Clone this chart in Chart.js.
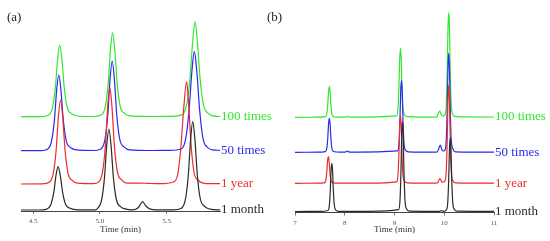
<!DOCTYPE html>
<html>
<head>
<meta charset="utf-8">
<script src="https://cdn.jsdelivr.net/npm/chart.js@4/dist/chart.umd.min.js"></script>
<style>
  html, body { margin: 0; padding: 0; background: #fff; }
  #wrap { position: relative; width: 550px; height: 241px; overflow: hidden; }
  canvas { position: absolute; top: 0; }
  .panel { position: absolute; top: 9px; font: 13px "Liberation Serif", "Times New Roman", serif; color: #222; }
</style>
</head>
<body>
<div id="wrap">
  <canvas id="ca" width="275" height="241" style="left:0"></canvas>
  <canvas id="cb" width="275" height="241" style="left:275px"></canvas>
  <div class="panel" style="left:7px">(a)</div>
  <div class="panel" style="left:267px">(b)</div>
</div>
<script>
// ---- series names & colours ----
const seriesNames = ['1 month', '1 year', '50 times', '100 times'];
const seriesColors = ['#2a2a2a', '#ee2a2a', '#2a2aee', '#2ee82e'];

// ---- x ticks ----
const ticksA = [4.5, 5.0, 5.5];
const tickLabelsA = ['4.5', '5.0', '5.5'];
const ticksB = [7, 8, 9, 10, 11];
const tickLabelsB = ['7', '8', '9', '10', '11'];
const axisTitle = 'Time (min)';

// ---- panel (a): [time (min), stacked signal] ----
const monthA = [[4.41,2.5],[4.55,2.5],
  [4.603,3.4],[4.633,7.7],[4.655,19.8],[4.672,37.1],[4.688,45.8],[4.704,37.1],[4.722,19.8],[4.744,8.1],[4.778,4.2],[4.818,2.9],
  [4.9,2.6],[4.97,2.6],
  [4.983,4.1],[5.013,12.2],[5.035,34.9],[5.052,67.3],[5.068,83.5],[5.084,67.3],[5.102,34.9],[5.124,13],[5.158,5.7],[5.198,3.3],
  [5.24,2.7],[5.27,3.2],[5.295,6],[5.32,10.8],[5.345,6.5],[5.38,3.3],[5.43,2.7],
  [5.55,2.6],
  [5.611,4.3],[5.641,13.1],[5.663,37.8],[5.68,73.1],[5.696,90.8],[5.712,73.1],[5.73,37.8],[5.752,14],[5.786,6],[5.826,3.4],
  [5.9,2.6]];
const yearA = [[4.41,28.5],[4.57,28.6],
  [4.621,30.2],[4.651,38.6],[4.673,62.1],[4.69,95.7],[4.706,112.5],[4.722,95.7],[4.74,62.1],[4.762,39.4],[4.796,31.9],[4.836,29.3],
  [4.95,28.8],
  [4.99,30.4],[5.02,40.1],[5.042,67.2],[5.059,105.9],[5.075,125.2],[5.091,105.9],[5.109,67.2],[5.131,41.1],[5.165,32.4],[5.205,29.3],
  [5.3,29.4],[5.36,29.1],[5.45,28.8],
  [5.551,30.5],[5.584,38.5],[5.606,63.5],[5.628,103.5],[5.65,130.8],[5.665,108.5],[5.683,68.5],[5.705,40.5],[5.738,32],[5.782,29.2],
  [5.9,28.8]];
const times50A = [[4.41,61.8],[4.56,61.9],
  [4.608,63.3],[4.638,70.9],[4.66,92.1],[4.677,122.4],[4.693,137.5],[4.709,122.4],[4.727,92.1],[4.749,71.6],[4.783,64.8],[4.823,62.6],
  [4.95,62],
  [5.008,63.6],[5.038,72.6],[5.06,97.7],[5.077,133.6],[5.093,151.5],[5.109,133.6],[5.127,97.7],[5.149,73.5],[5.183,65.4],[5.223,62.7],
  [5.4,62],[5.52,62.1],
  [5.613,63.8],[5.643,73.8],[5.668,101.8],[5.69,141.8],[5.708,160.8],[5.726,141.8],[5.748,101.8],[5.773,73.8],[5.803,65.5],[5.843,62.6],
  [5.9,62.2]];
const times100A = [[4.41,95.8],[4.56,95.9],
  [4.615,97.2],[4.645,104.4],[4.667,124.5],[4.684,153.2],[4.70,167.5],[4.716,153.2],[4.734,124.5],[4.756,105.1],[4.79,98.7],[4.83,96.5],
  [4.95,96],
  [5.011,97.5],[5.041,105.9],[5.063,129.4],[5.08,163],[5.096,179.8],[5.112,163],[5.13,129.4],[5.152,106.7],[5.186,99.2],[5.226,96.6],
  [5.4,96],[5.52,96.1],
  [5.618,97.9],[5.65,107.8],[5.675,133.8],[5.696,171.8],[5.713,190.8],[5.73,171.8],[5.751,133.8],[5.776,107.8],[5.806,99.8],[5.846,96.7],
  [5.9,96]];

// ---- panel (b): [time (min), stacked signal] ----
const monthB = [[7.0,1.5],[7.5,1.6],
  [7.66,2.5],[7.69,7.3],[7.71,23.2],[7.725,42.5],[7.74,49.7],[7.755,42.5],[7.77,23.2],[7.79,7.8],[7.82,2.9],[7.88,1.7],
  [8.5,1.6],
  [9.08,3.3],[9.11,12.3],[9.13,41.9],[9.145,77.8],[9.16,91.3],[9.175,77.8],[9.19,41.9],[9.21,13.2],[9.24,4.2],[9.3,1.8],
  [9.9,1.6],[9.95,2.5],[9.98,1.7],
  [10.04,2.9],[10.07,10.3],[10.09,34.5],[10.105,64],[10.12,75],[10.135,64],[10.15,34.5],[10.17,11.1],[10.2,3.7],[10.26,1.8],
  [11.0,1.6]];
const yearB = [[7.0,29.7],[7.45,29.8],
  [7.59,30.2],[7.62,32.9],[7.64,41.7],[7.655,52.3],[7.67,56.3],[7.685,52.3],[7.70,41.7],[7.72,33.2],[7.75,30.5],[7.81,29.9],
  [8.5,29.8],
  [9.04,31.1],[9.07,37.9],[9.09,60.3],[9.105,87.5],[9.12,97.7],[9.135,87.5],[9.15,60.3],[9.17,38.5],[9.2,32],[9.26,30.2],
  [9.8,29.8],[9.86,30],[9.89,32.5],[9.91,34.5],[9.935,32.5],[9.96,30.8],
  [10.01,31.7],[10.04,41.5],[10.06,73.9],[10.075,113.3],[10.09,128],[10.105,113.3],[10.12,73.9],[10.14,42.5],[10.17,32.6],[10.23,30.2],
  [11.0,29.8]];
const times50B = [[7.0,60.7],[7.45,60.8],
  [7.61,61.4],[7.64,64.8],[7.66,76],[7.675,89.6],[7.69,94.7],[7.705,89.6],[7.72,76],[7.74,65.1],[7.77,61.7],[7.83,61],
  [8.0,60.8],[8.05,61.8],[8.1,60.9],
  [9.06,62.1],[9.09,69.4],[9.11,93.2],[9.125,122.2],[9.14,133],[9.155,122.2],[9.17,93.2],[9.19,70.1],[9.22,62.9],[9.28,61.2],
  [9.8,60.8],[9.86,61],[9.89,64.5],[9.92,68],[9.945,64.5],[9.97,62],
  [10.01,62.7],[10.04,72.6],[10.06,105.4],[10.075,145.1],[10.09,160],[10.105,145.1],[10.12,105.4],[10.14,73.6],[10.17,64.7],[10.23,61.2],
  [11.0,60.9]];
const times100B = [[7.0,95.7],[7.45,95.8],
  [7.61,96.3],[7.64,99.4],[7.66,109.5],[7.675,121.7],[7.69,126.3],[7.705,121.7],[7.72,109.5],[7.74,99.7],[7.77,96.6],[7.83,95.9],
  [8.0,95.8],[8.05,96.6],[8.1,95.8],
  [9.04,97.1],[9.07,104],[9.09,126.7],[9.105,154.3],[9.12,164.7],[9.135,154.3],[9.15,126.7],[9.17,104.7],[9.2,98.5],[9.26,96.3],
  [9.8,95.8],[9.85,96],[9.88,99.5],[9.91,102],[9.935,99],[9.96,97],
  [10.01,97.8],[10.04,108.3],[10.06,142.8],[10.075,184.6],[10.09,200.3],[10.105,184.6],[10.12,142.8],[10.14,109.3],[10.17,98.8],[10.23,96.3],
  [11.0,96]];

const SERIF = '"Liberation Serif", "Times New Roman", serif';

const endLabels = {
  id: 'endLabels',
  afterDatasetsDraw(chart) {
    const ctx = chart.ctx;
    const ys = chart.scales.y;
    ctx.save();
    ctx.font = '13px ' + SERIF;
    ctx.textBaseline = 'middle';
    ctx.textAlign = 'left';
    chart.data.datasets.forEach((ds, i) => {
      const last = ds.data[ds.data.length - 1];
      ctx.fillStyle = seriesColors[i];
      ctx.fillText(seriesNames[i], chart.chartArea.right + 1, ys.getPixelForValue(last[1]));
    });
    ctx.restore();
  }
};

function makeChart(id, series, xmin, xmax, ticks, tickLabels, ymin, ymax, pad, axisH) {
  return new Chart(document.getElementById(id), {
    type: 'line',
    data: {
      datasets: series.map((d, i) => ({
        label: seriesNames[i],
        data: d,
        borderColor: seriesColors[i],
        borderWidth: 1.2,
        pointRadius: 0,
        fill: false,
        cubicInterpolationMode: 'monotone'
      }))
    },
    options: {
      responsive: false,
      animation: false,
      devicePixelRatio: 1,
      layout: { padding: pad },
      plugins: { legend: { display: false }, tooltip: { enabled: false } },
      scales: {
        x: {
          type: 'linear',
          min: xmin, max: xmax,
          afterBuildTicks: (s) => { s.ticks = ticks.map(v => ({ value: v })); },
          afterFit: (s) => { s.height = axisH; },
          ticks: {
            autoSkip: false, maxRotation: 0,
            font: { family: SERIF, size: 7 }, color: '#555', padding: 3,
            callback: (v) => { const k = ticks.indexOf(v); return k >= 0 ? tickLabels[k] : ''; }
          },
          grid: { drawOnChartArea: false, drawTicks: true, tickLength: 3, color: '#555', lineWidth: 0.8 },
          border: { display: true, color: '#444', width: 1 },
          title: { display: true, text: axisTitle, font: { family: SERIF, size: 9 }, color: '#333', padding: { top: 0, bottom: 6 } }
        },
        y: { display: false, min: ymin, max: ymax }
      }
    },
    plugins: [endLabels]
  });
}

makeChart('ca', [monthA, yearA, times50A, times100A], 4.41, 5.9, ticksA, tickLabelsA,
  1.5, 201.5, { left: 21, right: 55, top: 11, bottom: 0 }, 30);
makeChart('cb', [monthB, yearB, times50B, times100B], 7, 11, ticksB, tickLabelsB,
  0.5, 205.5, { left: 20, right: 56, top: 7.5, bottom: 0 }, 28.5);
</script>
</body>
</html>
